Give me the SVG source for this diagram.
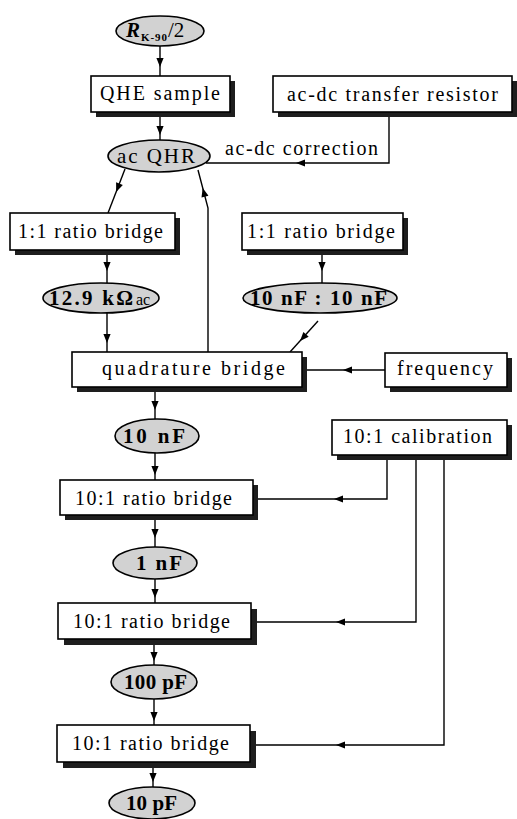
<svg xmlns="http://www.w3.org/2000/svg" xmlns:xlink="http://www.w3.org/1999/xlink" width="517" height="819" viewBox="0 0 517 819">
<style>
.box{fill:#fff;stroke:#000;stroke-width:1.6}
.sh{fill:#1e1e1e}
.ell{fill:#d2d2d2;stroke:#000;stroke-width:1.6}
.bt{font-family:"Liberation Serif","Times New Roman",serif;font-size:20px;fill:#000}
.et{font-family:"Liberation Serif","Times New Roman",serif;font-size:21px;font-weight:bold;fill:#000}
.en{font-family:"Liberation Serif","Times New Roman",serif;font-size:21px;fill:#000}
.ln{fill:none;stroke:#000;stroke-width:1.4}
</style>
<defs>
<path id="ah" d="M0,0 L-9,-3.6 L-9,3.6 Z" fill="#000"/>
</defs>
<rect width="517" height="819" fill="#fff"/>

<g id="connectors">
<path class="ln" d="M160,46 V76"/>
<use xlink:href="#ah" transform="translate(160,67) rotate(90)"/>
<path class="ln" d="M160,112 V140"/>
<use xlink:href="#ah" transform="translate(160,135) rotate(90)"/>
<path class="ln" d="M389,112 V163 H206"/>
<use xlink:href="#ah" transform="translate(296,163) rotate(180)"/>
<path class="ln" d="M125,169 L108,213"/>
<use xlink:href="#ah" transform="translate(116.2,192) rotate(111.1)"/>
<path class="ln" d="M208,352 V208 L198,170"/>
<use xlink:href="#ah" transform="translate(202.7,188) rotate(-104.7)"/>
<path class="ln" d="M107,250 V283"/>
<use xlink:href="#ah" transform="translate(107,271) rotate(90)"/>
<path class="ln" d="M107,313 V352"/>
<use xlink:href="#ah" transform="translate(107,343) rotate(90)"/>
<path class="ln" d="M322,250 V283"/>
<use xlink:href="#ah" transform="translate(322,271) rotate(90)"/>
<path class="ln" d="M318,321 L290,352"/>
<use xlink:href="#ah" transform="translate(300,341) rotate(132.1)"/>
<path class="ln" d="M385,370 H302"/>
<use xlink:href="#ah" transform="translate(343,370) rotate(180)"/>
<path class="ln" d="M155,387 V419"/>
<use xlink:href="#ah" transform="translate(155,410) rotate(90)"/>
<path class="ln" d="M155,453 V480"/>
<use xlink:href="#ah" transform="translate(155,475) rotate(90)"/>
<path class="ln" d="M387,455 V499 H253"/>
<use xlink:href="#ah" transform="translate(334,499) rotate(180)"/>
<path class="ln" d="M155,515 V547"/>
<use xlink:href="#ah" transform="translate(155,538) rotate(90)"/>
<path class="ln" d="M155,579 V603"/>
<use xlink:href="#ah" transform="translate(155,598) rotate(90)"/>
<path class="ln" d="M416,455 V622 H251"/>
<use xlink:href="#ah" transform="translate(336,622) rotate(180)"/>
<path class="ln" d="M154,639 V665"/>
<use xlink:href="#ah" transform="translate(154,661) rotate(90)"/>
<path class="ln" d="M154,699 V725"/>
<use xlink:href="#ah" transform="translate(154,721) rotate(90)"/>
<path class="ln" d="M444,455 V745 H250"/>
<use xlink:href="#ah" transform="translate(336,745) rotate(180)"/>
<path class="ln" d="M153,762 V787"/>
<use xlink:href="#ah" transform="translate(153,782) rotate(90)"/>
<text class="bt" x="225" y="155" textLength="153" lengthAdjust="spacing">ac-dc correction</text>
</g>

<g id="rk90">
<ellipse class="ell" cx="160" cy="31" rx="44" ry="15"/>
<text x="126" y="37" style="font-family:'Liberation Serif',serif;font-size:21px;font-style:italic;font-weight:bold">R</text>
<text x="141" y="41" style="font-family:'Liberation Serif',serif;font-size:11px;font-weight:bold" textLength="26" lengthAdjust="spacing">K-90</text>
<text x="168" y="37" style="font-family:'Liberation Serif',serif;font-size:21px">/2</text>
</g>

<g id="qhe">
<rect class="sh" x="96" y="81" width="139" height="36"/>
<rect class="box" x="91" y="76" width="139" height="36"/>
<text class="bt" x="100" y="100" textLength="120" lengthAdjust="spacing">QHE sample</text>
</g>

<g id="acdc">
<rect class="sh" x="278" y="81" width="239" height="36"/>
<rect class="box" x="273" y="76" width="239" height="36"/>
<text class="bt" x="287" y="101" textLength="211" lengthAdjust="spacing">ac-dc transfer resistor</text>
</g>

<g id="acqhr">
<ellipse class="ell" cx="159" cy="156" rx="51" ry="16"/>
<text class="en" x="117" y="163" textLength="78" lengthAdjust="spacing">ac QHR</text>
</g>

<g id="ratio11a">
<rect class="sh" x="15" y="218" width="165" height="37"/>
<rect class="box" x="10" y="213" width="165" height="37"/>
<text class="bt" x="18" y="238" textLength="145" lengthAdjust="spacing">1:1 ratio bridge</text>
</g>

<g id="ratio11b">
<rect class="sh" x="247" y="218" width="161" height="37"/>
<rect class="box" x="242" y="213" width="161" height="37"/>
<text class="bt" x="247" y="238" textLength="148" lengthAdjust="spacing">1:1 ratio bridge</text>
</g>

<g id="r129">
<ellipse class="ell" cx="101" cy="298" rx="58" ry="15"/>
<text class="et" x="49" y="305" textLength="84" lengthAdjust="spacing">12.9 kΩ</text>
<text class="en" x="136" y="305" style="font-size:16px">ac</text>
</g>

<g id="c10nf10nf">
<ellipse class="ell" cx="320" cy="298" rx="77" ry="15"/>
<text class="et" x="250" y="305" textLength="137" lengthAdjust="spacing">10 nF : 10 nF</text>
</g>

<g id="quad">
<rect class="sh" x="77" y="357" width="230" height="35"/>
<rect class="box" x="72" y="352" width="230" height="35"/>
<text class="bt" x="102" y="375" textLength="183" lengthAdjust="spacing">quadrature bridge</text>
</g>

<g id="freq">
<rect class="sh" x="390" y="358" width="122" height="34"/>
<rect class="box" x="385" y="353" width="122" height="34"/>
<text class="bt" x="397" y="375" textLength="96" lengthAdjust="spacing">frequency</text>
</g>

<g id="c10nf">
<ellipse class="ell" cx="157" cy="436" rx="42" ry="17"/>
<text class="et" x="123" y="443" textLength="62" lengthAdjust="spacing">10 nF</text>
</g>

<g id="cal">
<rect class="sh" x="337" y="425" width="175" height="35"/>
<rect class="box" x="332" y="420" width="175" height="35"/>
<text class="bt" x="343" y="443" textLength="149" lengthAdjust="spacing">10:1 calibration</text>
</g>

<g id="ratio101a">
<rect class="sh" x="65" y="485" width="193" height="35"/>
<rect class="box" x="60" y="480" width="193" height="35"/>
<text class="bt" x="75" y="505" textLength="157" lengthAdjust="spacing">10:1 ratio bridge</text>
</g>

<g id="c1nf">
<ellipse class="ell" cx="155" cy="563" rx="42" ry="16"/>
<text class="et" x="136" y="570" textLength="46" lengthAdjust="spacing">1 nF</text>
</g>

<g id="ratio101b">
<rect class="sh" x="64" y="609" width="193" height="36"/>
<rect class="box" x="58" y="603" width="193" height="36"/>
<text class="bt" x="73" y="628" textLength="157" lengthAdjust="spacing">10:1 ratio bridge</text>
</g>

<g id="c100pf">
<ellipse class="ell" cx="154" cy="682" rx="43" ry="17"/>
<text class="et" x="124" y="689" textLength="63" lengthAdjust="spacing">100 pF</text>
</g>

<g id="ratio101c">
<rect class="sh" x="63" y="731" width="193" height="37"/>
<rect class="box" x="57" y="725" width="193" height="37"/>
<text class="bt" x="72" y="750" textLength="157" lengthAdjust="spacing">10:1 ratio bridge</text>
</g>

<g id="c10pf">
<ellipse class="ell" cx="152" cy="803" rx="43" ry="16"/>
<text class="et" x="126" y="810" textLength="51" lengthAdjust="spacing">10 pF</text>
</g>
</svg>
